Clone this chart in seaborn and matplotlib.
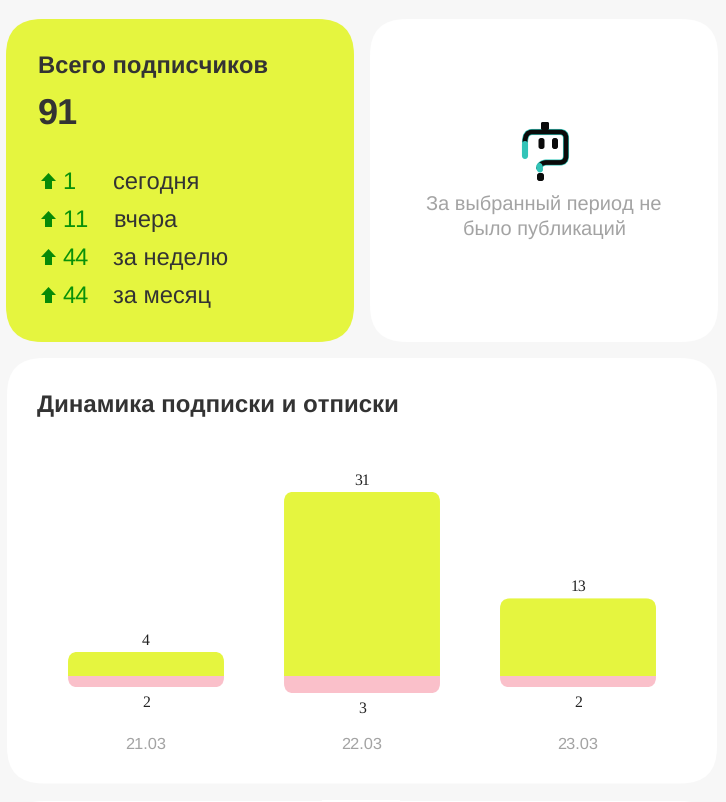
import matplotlib
matplotlib.use('Agg')
import matplotlib.pyplot as plt
import pandas as pd
import seaborn as sns
from matplotlib.patches import FancyBboxPatch, PathPatch, Polygon, Rectangle
from matplotlib.path import Path
from matplotlib.transforms import IdentityTransform

# chart data
dates = ['21.03', '22.03', '23.03']
subscribed = [4, 31, 13]
unsubscribed = [2, 3, 2]

stats_values = ['1', '11', '44', '44']
stats_labels = ['сегодня', 'вчера', 'за неделю', 'за месяц']

W, H = 726, 802
LIME = '#e5f53f'
PINK = '#fac0ca'
DARK = '#333333'
GREY = '#a3a3a3'
GREEN = '#099109'
TEAL = '#33c4b8'
INK = '#0a0a0a'

sns.set_theme(style='white')
plt.rcParams['font.family'] = ['Liberation Sans', 'DejaVu Sans']
plt.rcParams['text.hinting'] = 'no_hinting'
plt.rcParams['text.kerning_factor'] = 6

fig = plt.figure(figsize=(W / 100, H / 100), dpi=100, facecolor='#f7f7f7')

# page layer, coordinates are pixels of the picture
page = fig.add_axes([0, 0, 1, 1])
page.set_xlim(0, W)
page.set_ylim(H, 0)
page.axis('off')


def card(x0, y0, x1, y1, color, r=36):
    page.add_patch(FancyBboxPatch((x0 + r, y0 + r), x1 - x0 - 2 * r, y1 - y0 - 2 * r,
                                  boxstyle=f'round,pad={r},rounding_size={r}',
                                  fc=color, ec='none'))


card(6, 19, 354, 342, LIME)
card(370, 19, 718, 342, 'white')
card(7, 358, 717, 783.5, 'white')
card(7, 801, 717, 900, 'white')
page.add_patch(Rectangle((322, 800), 78, 2, fc='white', ec='none'))

page.text(38, 73.5, 'Всего подписчиков', fontsize=17.1, fontweight='bold', color=DARK, va='baseline')
page.text(38, 124, '91', fontsize=26, fontweight='bold', color=DARK, va='baseline')

for i, (val, lab) in enumerate(zip(stats_values, stats_labels)):
    y = 181 + i * 38
    page.add_patch(Polygon([(48.5, y - 8), (56, y), (52, y), (52, y + 8), (45, y + 8),
                            (45, y), (41, y)], fc='#078a07', ec='none'))
    page.text(62, y + 8, val, fontsize=17, color=GREEN, va='baseline')
    page.text(113, y + 8, lab, fontsize=17, color=DARK, va='baseline')

page.text(544, 210.5, 'За выбранный период не', fontsize=14.4, color=GREY, ha='center', va='baseline')
page.text(544, 236, 'было публикаций', fontsize=14.4, color=GREY, ha='center', va='baseline')

# no-data icon
outline = Path(
    [(525, 142), (525, 132), (532, 132), (560, 132), (566, 132), (566, 138), (566, 156),
     (566, 162.5), (560, 162.5), (546, 162.5), (540, 163), (539, 168)],
    [Path.MOVETO, Path.CURVE3, Path.CURVE3, Path.LINETO, Path.CURVE3, Path.CURVE3, Path.LINETO,
     Path.CURVE3, Path.CURVE3, Path.LINETO, Path.CURVE3, Path.CURVE3])
page.add_patch(PathPatch(outline, fc='none', ec=TEAL, lw=4.4, capstyle='round'))
page.add_patch(PathPatch(outline, fc='none', ec=INK, lw=3.4, capstyle='round'))
page.plot([525, 525], [144, 156], color=TEAL, lw=4.4, solid_capstyle='round')
page.plot([539.5, 540], [166, 169.5], color=TEAL, lw=4.4, solid_capstyle='round')
page.add_patch(FancyBboxPatch((541, 122), 8, 8, boxstyle='round,pad=0,rounding_size=1.5', fc=INK, ec='none'))
page.add_patch(FancyBboxPatch((538.5, 138), 6, 11, boxstyle='round,pad=0,rounding_size=2.5', fc=INK, ec='none'))
page.add_patch(FancyBboxPatch((552, 138), 6, 11, boxstyle='round,pad=0,rounding_size=2.5', fc=INK, ec='none'))
page.add_patch(FancyBboxPatch((537, 173), 7, 8, boxstyle='round,pad=0,rounding_size=2.5', fc=INK, ec='none'))

page.text(37, 412.5, 'Динамика подписки и отписки', fontsize=17.3, fontweight='bold', color=DARK, va='baseline')

# bar chart layer
PX_PER_UNIT = 5.93
ZERO_Y = 675.5
AX_TOP, AX_BOTTOM = 450, 725
ax = fig.add_axes([38 / W, 1 - AX_BOTTOM / H, 648 / W, (AX_BOTTOM - AX_TOP) / H])
ax.patch.set_alpha(0)

df = pd.DataFrame({'date': dates, 'up': subscribed, 'down': [-v for v in unsubscribed]})
sns.barplot(data=df, x='date', y='up', color=LIME, saturation=1, width=0.722, ax=ax)
n_up = len(ax.patches)
sns.barplot(data=df, x='date', y='down', color=PINK, saturation=1, width=0.722, ax=ax)

ax.set_xlim(-0.5, 2.5)
ax.set_ylim((ZERO_Y - AX_BOTTOM) / PX_PER_UNIT, (ZERO_Y - AX_TOP) / PX_PER_UNIT)
ax.set_xlabel('')
ax.set_ylabel('')
ax.set_yticks([])
sns.despine(ax=ax, left=True, bottom=True)
ax.tick_params(axis='x', length=0, pad=8.5, labelsize=11.8, labelcolor=GREY)

# round the outer corners: clip each up/down pair to one rounded box in pixels
up_bars = ax.patches[:n_up]
down_bars = ax.patches[n_up:]
fig.canvas.draw()
for up, down in zip(up_bars, down_bars):
    x0, top = ax.transData.transform((up.get_x(), up.get_height()))
    x1, bot = ax.transData.transform((up.get_x() + up.get_width(), down.get_height()))
    clip = FancyBboxPatch((x0, bot), x1 - x0, top - bot, boxstyle='round,pad=0,rounding_size=10',
                          transform=IdentityTransform(), fc='none', ec='none')
    up.set_clip_path(clip)
    down.set_clip_path(clip)
    up.set_edgecolor('none')
    down.set_edgecolor('none')

# value labels sit outside the bars, in a serif face
for i, (u, d) in enumerate(zip(subscribed, unsubscribed)):
    ax.annotate(str(u), (i, u), xytext=(0, 11), textcoords='offset pixels', ha='center', va='center',
                family='Liberation Serif', fontsize=11.3, color='#222222')
    ax.annotate(str(d), (i, -d), xytext=(0, -16), textcoords='offset pixels', ha='center', va='center',
                family='Liberation Serif', fontsize=11.3, color='#222222')

fig.savefig('out.png', dpi=100, facecolor=fig.get_facecolor())
